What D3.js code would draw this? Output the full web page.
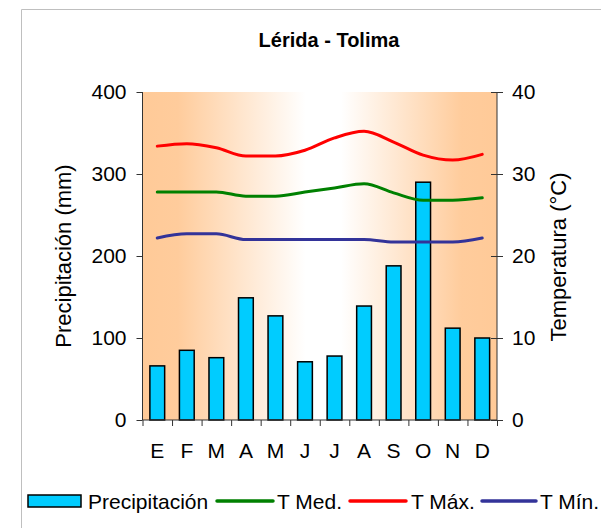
<!DOCTYPE html>
<html>
<head>
<meta charset="utf-8">
<script src="https://cdn.jsdelivr.net/npm/d3@7"></script>
<style>
  html, body { margin: 0; padding: 0; background: #fff; }
  svg { display: block; font-family: "Liberation Sans", Arial, sans-serif; }
</style>
</head>
<body>
<svg id="chart" width="601" height="528"></svg>
<script>
const months = ["E", "F", "M", "A", "M", "J", "J", "A", "S", "O", "N", "D"];
const precipitation = [66, 85, 76, 149, 127, 71, 78, 139, 188, 290, 112, 100];
const tMed = [27.8, 27.8, 27.8, 27.3, 27.3, 27.8, 28.3, 28.8, 27.7, 26.8, 26.8, 27.1];
const tMax = [33.4, 33.7, 33.2, 32.2, 32.2, 32.9, 34.4, 35.2, 33.9, 32.3, 31.7, 32.4];
const tMin = [22.2, 22.7, 22.7, 22.0, 22.0, 22.0, 22.0, 22.0, 21.7, 21.7, 21.7, 22.2];
const precipTicks = [0, 100, 200, 300, 400];
const tempTicks = [0, 10, 20, 30, 40];
const title = "Lérida - Tolima";
const leftTitle = "Precipitación (mm)";
const rightTitle = "Temperatura (°C)";
const legendItems = [
  { label: "Precipitación", type: "bar", color: "#00CCFF" },
  { label: "T Med.", type: "line", color: "#008000" },
  { label: "T Máx.", type: "line", color: "#FF0000" },
  { label: "T Mín.", type: "line", color: "#333399" }
];

const svg = d3.select("#chart");
const L = 142.5, R = 497, T = 92, B = 420;
const axisColor = "#333";

// outer frame
svg.append("path").attr("d", "M21.5,528 L21.5,9.5 L601,9.5")
  .attr("fill", "none").attr("stroke", "#BFBFBF").attr("stroke-width", 1);

// background gradient
const defs = svg.append("defs");
const grad = defs.append("linearGradient").attr("id", "bg").attr("x1", "0").attr("x2", "1").attr("y1", "0").attr("y2", "0");
[[0, "#FFCA98"], [0.1, "#FFCC9C"], [0.46, "#FFFFFF"], [0.56, "#FFFFFF"], [0.9, "#FFCC9C"], [1, "#FFCA98"]]
  .forEach(([o, c]) => grad.append("stop").attr("offset", o).attr("stop-color", c));
svg.append("rect").attr("x", L).attr("y", T).attr("width", R - L).attr("height", B - T).attr("fill", "url(#bg)");

const x = d3.scaleBand().domain(d3.range(12)).range([L, R]).paddingInner(0.5).paddingOuter(0.25);
const xStep = d3.scaleLinear().domain([0, 12]).range([L, R]);
const yP = d3.scaleLinear().domain([0, 400]).range([B, T]);
const yT = d3.scaleLinear().domain([0, 40]).range([B, T]);

// bars
svg.append("g").selectAll("rect").data(precipitation).join("rect")
  .attr("x", (d, i) => x(i)).attr("width", x.bandwidth())
  .attr("y", d => yP(d)).attr("height", d => yP(0) - yP(d))
  .attr("fill", "#00CCFF").attr("stroke", "#000").attr("stroke-width", 1.5);

// lines
const cx = i => x(i) + x.bandwidth() / 2;
const line = d3.line().x((d, i) => cx(i)).y(d => yT(d)).curve(d3.curveMonotoneX);
[[tMax, "#FF0000"], [tMed, "#008000"], [tMin, "#333399"]].forEach(([data, color]) => {
  svg.append("path").datum(data).attr("d", line)
    .attr("fill", "none").attr("stroke", color).attr("stroke-width", 3)
    .attr("stroke-linejoin", "round").attr("stroke-linecap", "round");
});

// left axis
const gl = svg.append("g").attr("transform", `translate(${L},0)`)
  .call(d3.axisLeft(yP).tickValues(precipTicks).tickSize(6).tickPadding(10).tickFormat(d3.format("d")));
gl.selectAll("text").attr("font-size", 21).attr("fill", "#000").attr("font-family", "Liberation Sans, Arial, sans-serif");
gl.selectAll("line, path").attr("stroke", axisColor);
gl.select(".domain").attr("d", `M0,${T}V${B}`);

// right axis
const gr = svg.append("g").attr("transform", `translate(${R},0)`)
  .call(d3.axisRight(yT).tickValues(tempTicks).tickSize(6).tickPadding(9).tickFormat(d3.format("d")));
gr.selectAll(".tick line").attr("x1", -6);
gr.selectAll("text").attr("font-size", 21).attr("fill", "#000").attr("font-family", "Liberation Sans, Arial, sans-serif");
gr.selectAll("line, path").attr("stroke", axisColor);
gr.select(".domain").attr("d", `M0,${T}V${B}`);

// bottom axis
const gb = svg.append("g").attr("transform", `translate(0,${B})`)
  .call(d3.axisBottom(xStep).tickValues(d3.range(13)).tickSize(6).tickFormat(""));
gb.selectAll("line, path").attr("stroke", axisColor);
gb.select(".domain").attr("d", `M${L},0H${R}`);

svg.append("g").selectAll("text").data(months).join("text")
  .attr("x", (d, i) => cx(i)).attr("y", 458)
  .attr("text-anchor", "middle").attr("font-size", 21).text(d => d);

// titles
svg.append("text").attr("x", 329).attr("y", 47).attr("text-anchor", "middle")
  .attr("font-size", 20).attr("font-weight", "bold").text(title);
svg.append("text").attr("transform", "translate(71,256) rotate(-90)")
  .attr("text-anchor", "middle").attr("font-size", 22).text(leftTitle);
svg.append("text").attr("transform", "translate(566,257) rotate(-90)")
  .attr("text-anchor", "middle").attr("font-size", 22).text(rightTitle);

// legend
const legendPos = [
  { sx: 28, sw: 53, tx: 88 },
  { sx: 217, sw: 56, tx: 277 },
  { sx: 350, sw: 56, tx: 411 },
  { sx: 482, sw: 54, tx: 540 }
];
const ly = 501;
const lg = svg.append("g");
legendItems.forEach((it, i) => {
  const p = legendPos[i];
  if (it.type === "bar") {
    lg.append("rect").attr("x", p.sx).attr("y", ly - 6).attr("width", p.sw).attr("height", 12)
      .attr("fill", it.color).attr("stroke", "#000").attr("stroke-width", 1.5);
  } else {
    lg.append("line").attr("x1", p.sx).attr("x2", p.sx + p.sw).attr("y1", ly).attr("y2", ly)
      .attr("stroke", it.color).attr("stroke-width", 3.5).attr("stroke-linecap", "round");
  }
  lg.append("text").attr("x", p.tx).attr("y", ly + 7.5).attr("font-size", 21).text(it.label);
});
</script>
</body>
</html>
